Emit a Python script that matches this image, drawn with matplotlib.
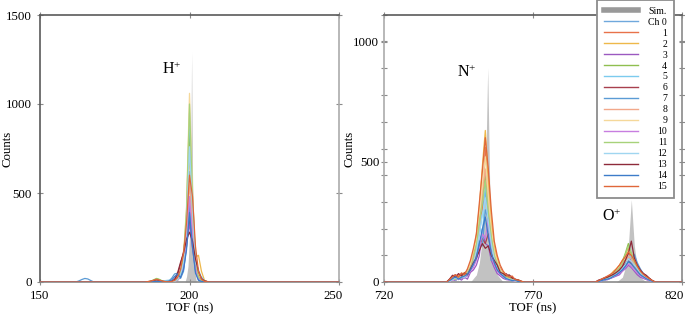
import numpy as np
import matplotlib
matplotlib.use("Agg")
import matplotlib.pyplot as plt
from matplotlib.lines import Line2D
from matplotlib.transforms import ScaledTranslation

plt.rcParams['font.family'] = ['Liberation Serif', 'DejaVu Serif']
plt.rcParams['mathtext.fontset'] = 'custom'
plt.rcParams['mathtext.rm'] = 'Liberation Serif'
plt.rcParams['mathtext.it'] = 'Liberation Serif:italic'

# ---------------- data ----------------
channels = ["Ch 0", "1", "2", "3", "4", "5", "6", "7", "8", "9", "10", "11", "12", "13", "14", "15"]
colors = ['#6fa8dc', '#e8724a', '#eeb84a', '#9b59c0', '#8fbf50', '#7ccbee', '#a8404e', '#5b9bd5',
          '#f2a88a', '#f5d89a', '#c77ee0', '#a7d27a', '#9fd6f0', '#8e2a3a', '#3d7cc9', '#e0673a']

# simulated spectra (grey area)
sim_h_tof = [198.5, 199.0, 199.5, 200.0, 200.4, 200.7, 201.0, 201.4, 201.8, 202.3]
sim_h = [0, 30, 90, 260, 600, 1290, 620, 220, 60, 0]
sim_n_tof = [749, 751, 752, 753, 754, 754.8, 755.5, 756.5, 758, 760]
sim_n = [0, 30, 80, 180, 400, 890, 380, 120, 30, 0]
sim_o_tof = [798, 800, 801, 802, 803, 804, 805, 806, 808]
sim_o = [0, 20, 60, 150, 342, 150, 60, 20, 0]

# measured counts per channel, H+ region 185..207 ns (1 ns bins)
h_start = 185
h_counts = [
    [0,0,1,2,3,2,1,0,1,2,5,15,40,110,260,620,330,90,30,8,3,1,0],
    [0,1,3,6,8,5,3,2,1,3,6,18,50,140,330,810,420,120,35,10,3,1,0],
    [0,0,2,5,9,6,2,1,0,2,4,12,35,100,300,730,380,140,150,60,10,2,0],
    [0,0,0,1,2,1,0,0,0,1,3,10,30,80,200,330,190,70,20,6,2,0,0],
    [0,1,4,12,20,14,5,2,1,2,5,14,45,130,360,870,450,120,30,8,2,0,0],
    [0,0,1,3,5,4,2,8,10,5,6,16,40,120,380,950,500,120,40,30,5,1,0],
    [0,1,2,4,6,4,2,1,1,3,10,40,100,170,290,350,250,120,60,20,6,2,0],
    [0,0,0,1,2,1,1,2,5,20,45,50,20,60,200,430,220,60,10,3,1,0,0],
    [0,1,2,5,10,7,3,1,0,1,4,12,35,100,250,560,300,90,25,7,2,0,0],
    [0,0,1,3,5,3,1,0,0,1,4,12,40,150,420,1060,520,130,40,10,3,1,0],
    [0,0,1,2,3,2,1,0,0,1,3,10,30,90,240,480,260,80,20,5,1,0,0],
    [0,1,3,8,18,12,4,1,0,1,4,13,45,140,400,1000,480,120,30,8,2,0,0],
    [0,0,1,2,4,3,1,0,0,1,5,14,40,110,300,760,400,110,70,25,4,1,0],
    [0,2,4,8,12,8,4,2,2,5,15,50,110,160,240,280,230,130,60,20,6,2,0],
    [0,0,1,2,3,2,1,0,2,10,30,45,25,70,180,390,200,50,10,3,1,0,0],
    [0,2,5,10,15,10,5,2,1,3,8,25,70,160,330,600,480,200,60,15,4,1,0],
]
# small early bump of channel 7
bump_ch = 7
bump_start = 162
bump_counts = [0, 6, 14, 20, 17, 8, 0]

# N+ region 741..767 ns
n_start = 741
n_counts = [
    [0,5,18,10,22,15,30,25,60,90,120,200,290,380,250,170,90,70,40,30,15,20,8,12,5,2,0],
    [0,8,25,12,30,20,35,50,70,120,180,260,300,560,450,230,140,80,60,35,25,15,20,8,10,3,0],
    [0,3,15,20,12,28,40,35,80,110,200,310,480,630,420,260,150,100,50,40,20,25,10,6,4,2,0],
    [0,2,10,6,15,8,20,12,40,50,70,110,220,160,150,90,60,35,25,15,10,8,12,4,3,0,0],
    [0,6,12,25,15,30,22,45,60,100,160,230,350,450,300,180,110,70,45,30,20,12,15,6,8,2,0],
    [0,4,20,8,18,25,15,40,55,85,140,250,180,400,330,200,100,60,50,25,15,18,6,10,3,1,0],
    [0,10,25,30,20,35,25,40,60,90,110,150,180,160,200,120,80,60,45,30,35,20,15,10,6,2,0],
    [0,8,15,20,10,25,18,30,50,70,100,170,150,300,260,90,90,50,40,20,12,15,5,8,3,1,0],
    [0,5,12,22,18,26,30,38,70,100,150,240,360,470,330,200,120,70,55,30,20,14,10,5,4,1,0],
    [0,3,10,15,24,18,32,45,75,130,170,280,400,520,360,220,130,85,50,35,22,15,8,12,3,1,0],
    [0,4,8,14,10,20,16,28,45,60,90,140,200,180,260,110,70,45,30,22,12,10,6,4,2,0,0],
    [0,6,14,10,22,18,28,40,60,95,150,250,330,420,290,190,110,75,45,30,18,20,8,6,3,1,0],
    [0,4,10,18,12,22,20,35,55,80,130,200,280,350,250,160,95,60,40,25,15,10,8,5,3,1,0],
    [0,12,28,20,35,25,38,30,55,80,100,130,160,140,150,110,90,70,40,35,25,30,18,12,8,3,0],
    [0,6,14,22,12,20,25,32,50,75,100,160,220,270,190,120,80,50,35,25,14,10,6,8,2,1,0],
    [0,10,22,30,20,38,30,55,90,140,200,330,460,600,470,300,170,110,70,45,30,20,25,10,8,3,0],
]

# O+ region 791..811 ns
o_start = 791
o_counts = [
    [0,3,8,12,10,18,25,30,45,60,70,85,100,75,60,40,30,22,10,5,0],
    [0,5,10,15,20,28,35,50,60,80,95,120,105,90,70,50,35,25,15,6,0],
    [0,2,8,14,22,30,45,55,70,90,110,140,120,95,65,40,25,18,10,4,0],
    [0,2,5,8,10,15,20,25,30,45,55,70,60,45,30,20,15,10,6,2,0],
    [0,4,10,12,18,25,30,48,60,85,120,160,110,80,55,35,28,20,12,5,0],
    [0,3,6,10,14,20,28,35,50,65,80,95,110,90,70,50,35,20,12,4,0],
    [0,8,12,18,22,28,35,45,55,60,75,90,80,70,55,45,35,25,15,6,0],
    [0,2,5,8,12,18,22,30,42,55,70,85,95,115,80,55,35,20,10,3,0],
    [0,4,9,14,18,24,32,42,55,72,88,105,95,75,60,40,28,18,10,4,0],
    [0,3,8,12,20,26,38,50,65,85,100,130,110,85,60,38,25,15,8,3,0],
    [0,2,5,9,12,16,22,28,35,45,60,75,65,50,38,26,18,12,6,2,0],
    [0,4,8,14,18,22,34,45,58,80,115,150,120,85,55,35,25,16,10,4,0],
    [0,3,6,10,13,18,24,32,44,58,72,95,85,70,55,38,26,16,8,3,0],
    [0,6,10,16,20,26,32,40,50,65,90,120,170,100,70,50,35,28,16,6,0],
    [0,2,6,10,12,16,24,30,40,50,65,85,75,60,45,30,22,14,8,3,0],
    [0,5,12,18,25,32,40,55,70,90,105,125,110,90,65,45,32,22,14,6,0],
]

left_xlim = (150, 250)
right_xlim = (720, 820)
left_xticks = [150, 200, 250]
right_xticks = [720, 770, 820]


def build(grid, segments):
    y = np.zeros(len(grid))
    for start, vals in segments:
        i0 = int(np.searchsorted(grid, start))
        vals = np.asarray(vals, float)
        n = min(len(vals), len(y) - i0)
        y[i0:i0 + n] = vals[:n]
    return y


grid_l = np.arange(left_xlim[0], left_xlim[1] + 1)
grid_r = np.arange(right_xlim[0], right_xlim[1] + 1)

# ---------------- figure ----------------
fig = plt.figure(figsize=(6.85, 3.19), dpi=100)
ax1 = fig.add_axes([40/685, 1-282/319, (339-40)/685, (282-15)/319])
ax2 = fig.add_axes([384/685, 1-282/319, (682-384)/685, (282-15)/319])

sim_color = '#c2c2c2'
ax1.fill_between(sim_h_tof, sim_h, color=sim_color, lw=0, zorder=1)
ax2.fill_between(sim_n_tof, sim_n, color=sim_color, lw=0, zorder=1)
ax2.fill_between(sim_o_tof, sim_o, color=sim_color, lw=0, zorder=1)

for i, c in enumerate(colors):
    segs = [(h_start, h_counts[i])]
    if i == bump_ch:
        segs.append((bump_start, bump_counts))
    yl = build(grid_l, segs)
    ax1.plot(grid_l, yl, color=c, lw=0.9, zorder=2 + i)
    yr = build(grid_r, [(n_start, n_counts[i]), (o_start, o_counts[i])])
    ax2.plot(grid_r, yr, color=c, lw=0.9, zorder=2 + i)

FS = 9.3
dark, light, mid = '#5a5a5a', '#ababab', '#8a8a8a'
spine_cols = {
    ax1: {'left': dark, 'top': dark, 'right': light, 'bottom': mid},
    ax2: {'left': light, 'top': dark, 'right': mid, 'bottom': mid},
}
for ax in (ax1, ax2):
    for k, s in ax.spines.items():
        s.set_color(spine_cols[ax][k])
        s.set_linewidth(1.2)
    ax.tick_params(which='both', direction='inout', top=True, right=True, length=4,
                   width=0.8, color=mid, labelsize=FS)
    ax.tick_params(axis='x', pad=4)
    ax.set_xlabel('TOF (ns)', fontsize=FS, labelpad=0)
    ax.set_ylabel('Counts', fontsize=FS)

ax1.tick_params(axis='y', pad=4)
ax2.tick_params(axis='y', pad=1.5)
ax1.yaxis.set_label_coords(-0.09, 0.5)
ax2.yaxis.set_label_coords(-0.097, 0.5)

ax1.set_xlim(*left_xlim)
ax1.set_ylim(0, 1500)
ax1.set_xticks(left_xticks)
ax1.set_yticks([0, 500, 1000, 1500])

ax2.set_xlim(*right_xlim)
ax2.set_ylim(0, 1110)
ax2.set_xticks(right_xticks)
ax2.set_yticks([0, 500, 1000])
ax2.set_yticks(np.arange(0, 1111, 111), minor=True)

# shift the last x tick labels a bit left (as in the reference)
for ax, dx in ((ax1, -6), (ax2, -8)):
    lab = ax.get_xticklabels()[-1]
    lab.set_transform(lab.get_transform() + ScaledTranslation(dx / 100, 0, fig.dpi_scale_trans))

ax1.text(194.1, 1190, 'H$^{+}$', fontsize=11.5, ha='center', va='center')
ax2.text(747.7, 870, 'N$^{+}$', fontsize=11.5, ha='center', va='center')
ax2.text(796.4, 271, 'O$^{+}$', fontsize=11.5, ha='center', va='center')

handles = [Line2D([], [], color='#999999', lw=4)] + \
          [Line2D([], [], color=c, lw=1) for c in colors]
labels = ['Sim.'] + channels
leg = ax2.legend(handles, labels, loc='upper right', bbox_to_anchor=(674/685, 1.0),
                 bbox_transform=fig.transFigure, borderaxespad=0, fontsize=7,
                 labelspacing=0.2, handlelength=3.5, handletextpad=1.1,
                 borderpad=0.7, fancybox=False, framealpha=1, edgecolor='#8c8c8c')
leg.get_frame().set_linewidth(1.3)
leg.set_zorder(50)

# right-align legend labels
fig.canvas.draw()
r = fig.canvas.get_renderer()
widths = [t.get_window_extent(r).width for t in leg.get_texts()]
wmax = max(widths)
for t, w in zip(leg.get_texts(), widths):
    t.set_position((wmax - w, 0))

fig.savefig('out.png', dpi=100)
